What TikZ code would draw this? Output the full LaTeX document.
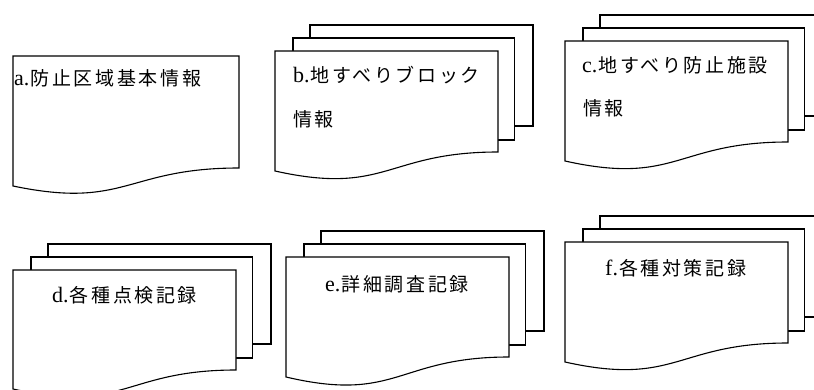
\documentclass[tikz,border=0pt]{standalone}
\usepackage{fontspec}
\setmainfont{Liberation Serif}
\newfontfamily\cjk[LetterSpace=14]{Noto Sans CJK JP}
\newcommand{\lat}[1]{{\fontsize{22}{24}\selectfont #1}}
\tikzset{
  pg/.style={draw=black, line width=1.1pt, fill=white, line join=miter},
  lbl/.style={anchor=base west, inner sep=0pt, font=\fontsize{19}{22}\selectfont},
}
% front page of a document shape: left, top, right, right-bottom, left-bottom
\newcommand{\docfront}[5]{%
  \draw[pg] (#1,#2) -- (#3,#2) -- (#3,#4)
    .. controls ({(#1+#3)/2},#4) and ({(#1+#3)/2},{#4+2.31*(#5-#4)}) .. (#1,#5) -- cycle;
}
\newcommand{\docmulti}[5]{%
  \draw[pg] ({#1+35},{#2-26}) rectangle ({#3+35},{#4-26});
  \draw[pg] ({#1+18},{#2-13}) rectangle ({#3+16.5},{#4-12});
  \docfront{#1}{#2}{#3}{#4}{#5}
}
\begin{document}
\begin{tikzpicture}[x=1pt,y=-1pt]
\fill[white] (0,0) rectangle (814,390);
\useasboundingbox (0,0) rectangle (814,390);
% a
\docfront{13}{56}{239}{168}{186}
\node[lbl] (ta) at (14,86) {\lat{a.}\hspace{1pt}{\cjk 防止区域基本情報}};
% b
\docmulti{275}{51}{498}{152}{171}
\node[lbl] (tb1) at (293,83) {\lat{b.}\hspace{1pt}{\cjk 地すべりブロック}};
\node[lbl] (tb2) at (293,127) {{\cjk 情報}};
% c
\docmulti{565}{41}{788}{142}{161}
\node[lbl] (tc1) at (582,73) {\lat{c.}\hspace{1pt}{\cjk 地すべり防止施設}};
\node[lbl] (tc2) at (583,116) {{\cjk 情報}};
% d
\docmulti{13}{270}{236}{370}{389}
\node[lbl] (td) at (52,302) {\lat{d.}\hspace{1pt}{\cjk 各種点検記録}};
% e
\docmulti{286}{257}{509}{357}{377}
\node[lbl] (te) at (325,291) {\lat{e.}\hspace{1pt}{\cjk 詳細調査記録}};
% f
\docmulti{565}{242}{788}{343}{362}
\node[lbl] (tf) at (605,276) {\lat{f.}\hspace{1pt}{\cjk 各種対策記録}};
\end{tikzpicture}
\end{document}
